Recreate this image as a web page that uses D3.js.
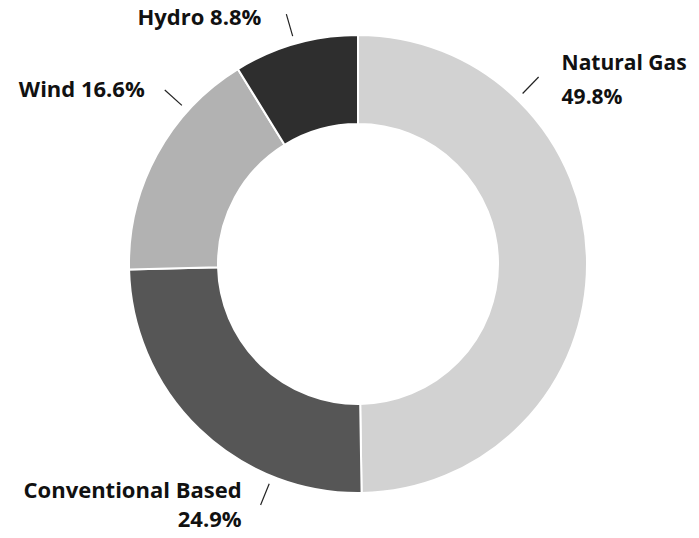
<!DOCTYPE html>
<html>
<head>
	<meta charset="utf-8">
	<title>Donut</title>
	<script src="https://cdn.jsdelivr.net/npm/d3@7"></script>
	<style>
		body{margin:0;background:#fff;}
		text{font-family:"Open Sans","Noto Sans",sans-serif;font-weight:bold;fill:#111;}
	</style>
</head>
<body>
	<svg width="699" height="538"></svg>
	<script>
	/*data*/
	var categories=["Natural Gas","Conventional Based","Wind","Hydro"];
	var values=[49.8,24.9,16.6,8.8];
	var colors=["#d2d2d2","#565656","#b2b2b2","#2e2e2e"];

	/*label layout: leader angle (deg), text offset from leader end, anchor, line gap*/
	var labelAngle=[44,202,312,344];
	var labelDx=[23,-19,-20,-25];
	var labelDy=[-7,-7,7,11];
	var labelAnchor=["start","end","end","end"];
	var labelSize=[21,22,22,22];
	var lineGap=[34,29,0,0];

	var svg=d3.select("svg");
	var cx=358,cy=264,R=229,r=140;
	var g=svg.append("g").attr("transform","translate("+cx+","+cy+")");

	var pie=d3.pie().sort(null).value(function(d){return d;});
	var arc=d3.arc().innerRadius(r).outerRadius(R);
	var pieData=pie(values);

	g.selectAll("path")
	.data(pieData)
	.enter()
	.append("path")
	.attr("d",arc)
	.attr("fill",function(d,i){return colors[i];})
	.attr("stroke","#fff")
	.attr("stroke-width",2);

	function polar(deg,rad){
		var a=deg*Math.PI/180;
		return [Math.sin(a)*rad,-Math.cos(a)*rad];
	}

	/*leader lines*/
	g.selectAll(".leader")
	.data(pieData)
	.enter()
	.append("line")
	.attr("class","leader")
	.attr("x1",function(d,i){return polar(labelAngle[i],R+8)[0];})
	.attr("y1",function(d,i){return polar(labelAngle[i],R+8)[1];})
	.attr("x2",function(d,i){return polar(labelAngle[i],R+31)[0];})
	.attr("y2",function(d,i){return polar(labelAngle[i],R+31)[1];})
	.attr("stroke","#222")
	.attr("stroke-width",1.2);

	/*labels*/
	var labels=g.selectAll(".label")
	.data(pieData)
	.enter()
	.append("text")
	.attr("class","label")
	.attr("font-size",function(d,i){return labelSize[i];})
	.attr("text-anchor",function(d,i){return labelAnchor[i];})
	.attr("transform",function(d,i){
		var p=polar(labelAngle[i],R+31);
		return "translate("+(p[0]+labelDx[i])+","+(p[1]+labelDy[i])+")";
	});

	labels.each(function(d,i){
		var t=d3.select(this);
		var pct=d.data.toFixed(1)+"%";
		if(lineGap[i]>0){
			t.append("tspan").attr("x",0).attr("y",0).text(categories[i]);
			t.append("tspan").attr("x",0).attr("y",lineGap[i]).text(pct);
		}else{
			t.text(categories[i]+" "+pct);
		}
	});
	</script>
</body>
</html>
